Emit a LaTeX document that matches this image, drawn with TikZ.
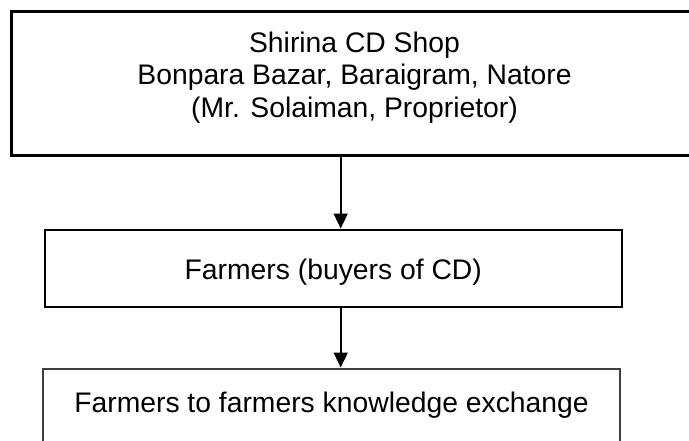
\documentclass[tikz,border=0pt]{standalone}
\usepackage{fontspec}
\setmainfont{Liberation Sans}
\usetikzlibrary{arrows.meta}

\begin{document}
\begin{tikzpicture}[x=1pt, y=-1pt,
    box/.style={rectangle, draw=black, outer sep=0pt, inner xsep=0pt, inner ysep=0pt, align=center, font=\fontsize{28.3}{32.5}\selectfont},
    arr/.style={-{Triangle[length=15pt,width=14pt]}, line width=1.8pt, shorten >=1.5pt}
]
    \useasboundingbox (0,0) rectangle (689,440);

    \node[box, line width=3pt, anchor=north, minimum width=687pt, text height=106pt, text depth=38pt] (shop) at (354.5,11)
        {Shirina CD Shop\\ Bonpara Bazar, Baraigram, Natore\\ (Mr. Solaiman, Proprietor)};
    \node[box, line width=2.4pt, anchor=north, minimum width=577pt, text height=49pt, text depth=28pt] (buyers) at (333.3,230)
        {Farmers (buyers of CD)};
    \node[box, draw=black!75, line width=1.2pt, anchor=north, minimum width=577pt, text height=43pt, text depth=45pt] (exchange) at (331.5,369)
        {Farmers to farmers knowledge exchange};

    \coordinate (spine) at (340.7,0);
    \draw[arr] (shop.south -| spine) -- (buyers.north -| spine);
    \draw[arr] (buyers.south -| spine) -- (exchange.north -| spine);
\end{tikzpicture}
\end{document}
